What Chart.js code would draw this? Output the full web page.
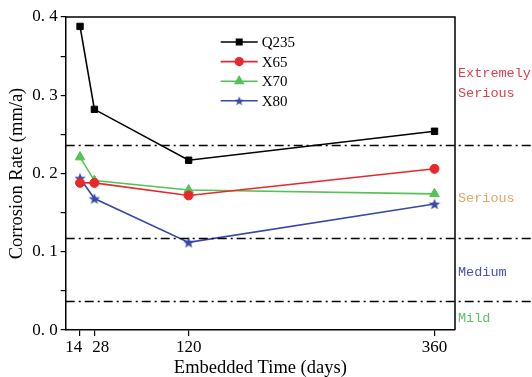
<!DOCTYPE html>
<html>
<head>
<meta charset="utf-8">
<script src="https://cdn.jsdelivr.net/npm/chart.js@4/dist/chart.umd.min.js"></script>
<style>
  html, body { margin: 0; padding: 0; background: #fff; }
  #wrap { width: 532px; height: 377px; }
</style>
</head>
<body>
<div id="wrap"><canvas id="chart"></canvas></div>
<script>
// data
const days = [14, 28, 120, 360];
const q235 = [0.388, 0.282, 0.217, 0.254];
const x65 = [0.188, 0.188, 0.172, 0.206];
const x70 = [0.221, 0.191, 0.179, 0.174];
const x80 = [0.194, 0.168, 0.112, 0.161];
const levelLines = [0.236, 0.118, 0.037];
const levelNames = [['Extremely', 'Serious'], ['Serious'], ['Medium'], ['Mild']];
const levelAt = [0.315, 0.168, 0.074, 0.015];
const levelColors = ['#d9404f', '#e4a565', '#4a52b0', '#5cc45c'];

const serif = '"Liberation Serif", "Times New Roman", serif';

// filled five-point star used as a point style
function starImage(size, color) {
    const c = document.createElement('canvas');
    c.width = size;
    c.height = size;
    const g = c.getContext('2d');
    const r = size / 2, ri = r * 0.42;
    g.fillStyle = color;
    g.beginPath();
    for (let i = 0; i < 10; i++) {
        const rr = i % 2 === 0 ? r : ri;
        const ang = -Math.PI / 2 + i * Math.PI / 5;
        g.lineTo(r + rr * Math.cos(ang), r + 0.5 + rr * Math.sin(ang));
    }
    g.closePath();
    g.fill();
    return c;
}

function pts(vals) {
    return days.map((d, i) => ({ x: d, y: vals[i] }));
}

function series(label, vals, color, style, radius) {
    return {
        label: label,
        data: pts(vals),
        borderColor: color,
        backgroundColor: color,
        borderWidth: 1.6,
        pointStyle: style,
        pointRadius: radius,
        pointHoverRadius: radius,
        pointBorderWidth: 1,
        tension: 0
    };
}

const blue = '#3a48a8';
const starBig = starImage(12, blue);
const starSmall = starImage(10, blue);

// frame, dash-dot level lines, side labels and legend
const extras = {
    id: 'extras',
    afterDraw(chart) {
        const ctx = chart.ctx;
        const a = chart.chartArea;
        const y = chart.scales.y;
        ctx.save();

        // top and right frame
        ctx.strokeStyle = '#000';
        ctx.lineWidth = 1.5;
        ctx.beginPath();
        ctx.moveTo(a.left, a.top);
        ctx.lineTo(a.right, a.top);
        ctx.lineTo(a.right, a.bottom);
        ctx.stroke();

        // level lines
        ctx.setLineDash([9, 4, 2, 4]);
        ctx.lineWidth = 1.3;
        levelLines.forEach(v => {
            const py = Math.round(y.getPixelForValue(v)) + 0.5;
            ctx.beginPath();
            ctx.moveTo(a.left, py);
            ctx.lineTo(chart.width, py);
            ctx.stroke();
        });
        ctx.setLineDash([]);

        // level names
        ctx.font = '13.5px "Liberation Mono", "DejaVu Sans Mono", monospace';
        ctx.textBaseline = 'middle';
        ctx.textAlign = 'left';
        levelNames.forEach((lines, i) => {
            const mid = y.getPixelForValue(levelAt[i]);
            ctx.fillStyle = levelColors[i];
            lines.forEach((t, k) => {
                ctx.fillText(t, a.right + 3, mid + (k - (lines.length - 1) / 2) * 20);
            });
        });

        // legend
        ctx.font = '15px ' + serif;
        chart.data.datasets.forEach((ds, i) => {
            const ly = a.top + 25 + i * 19.6;
            const lx = a.left + 155;
            ctx.strokeStyle = ds.borderColor;
            ctx.lineWidth = 1.6;
            ctx.beginPath();
            ctx.moveTo(lx, ly);
            ctx.lineTo(lx + 37, ly);
            ctx.stroke();
            ctx.fillStyle = ds.backgroundColor;
            const style = ds.pointStyle === starBig ? starSmall : ds.pointStyle;
            Chart.helpers.drawPoint(ctx, {
                pointStyle: style,
                radius: ds.pointRadius * 0.85,
                rotation: 0,
                borderWidth: 1
            }, lx + 18.5, ly);
            ctx.fillStyle = '#000';
            ctx.fillText(ds.label, lx + 41, ly + 1);
        });

        ctx.restore();
    }
};

new Chart(document.getElementById('chart'), {
    type: 'line',
    data: {
        datasets: [
            series('Q235', q235, '#000000', 'rect', 4.5),
            series('X65', x65, '#e8282a', 'circle', 4.5),
            series('X70', x70, '#55c255', 'triangle', 5.5),
            series('X80', x80, blue, starBig, 6)
        ]
    },
    options: {
        responsive: true,
        maintainAspectRatio: false,
        animation: false,
        layout: { padding: { top: 17, right: 77, left: 2, bottom: 0 } },
        plugins: {
            legend: { display: false },
            tooltip: { enabled: false }
        },
        scales: {
            x: {
                type: 'linear',
                min: 0,
                max: 380,
                afterBuildTicks(scale) {
                    scale.ticks = days.map(d => ({ value: d }));
                },
                ticks: {
                    autoSkip: false,
                    maxRotation: 0,
                    color: '#000',
                    padding: 4,
                    font: { family: serif, size: 17, lineHeight: 0.85 },
                    callback: v => (v === 14 ? '14   ' : v === 28 ? '   28' : String(v))
                },
                grid: { drawOnChartArea: false, tickLength: 6, color: '#000', lineWidth: 1.2 },
                border: { color: '#000', width: 1.5 },
                title: {
                    display: true,
                    text: 'Embedded Time (days)',
                    color: '#000',
                    padding: { top: 0, bottom: 0 },
                    font: { family: serif, size: 18.5, lineHeight: 1.0 }
                }
            },
            y: {
                min: 0,
                max: 0.4,
                ticks: {
                    stepSize: 0.05,
                    color: '#000',
                    padding: 3,
                    font: { family: serif, size: 17 },
                    callback: v => (Math.round(v * 100) % 10 === 0 ? v.toFixed(1).replace('.', '. ') : '')
                },
                grid: { drawOnChartArea: false, tickLength: 5, color: '#000', lineWidth: 1.2 },
                border: { color: '#000', width: 1.5 },
                title: {
                    display: true,
                    text: 'Corrosion Rate (mm/a)',
                    color: '#000',
                    padding: { top: 4, bottom: 1 },
                    font: { family: serif, size: 18.5 }
                }
            }
        }
    },
    plugins: [extras]
});
</script>
</body>
</html>
